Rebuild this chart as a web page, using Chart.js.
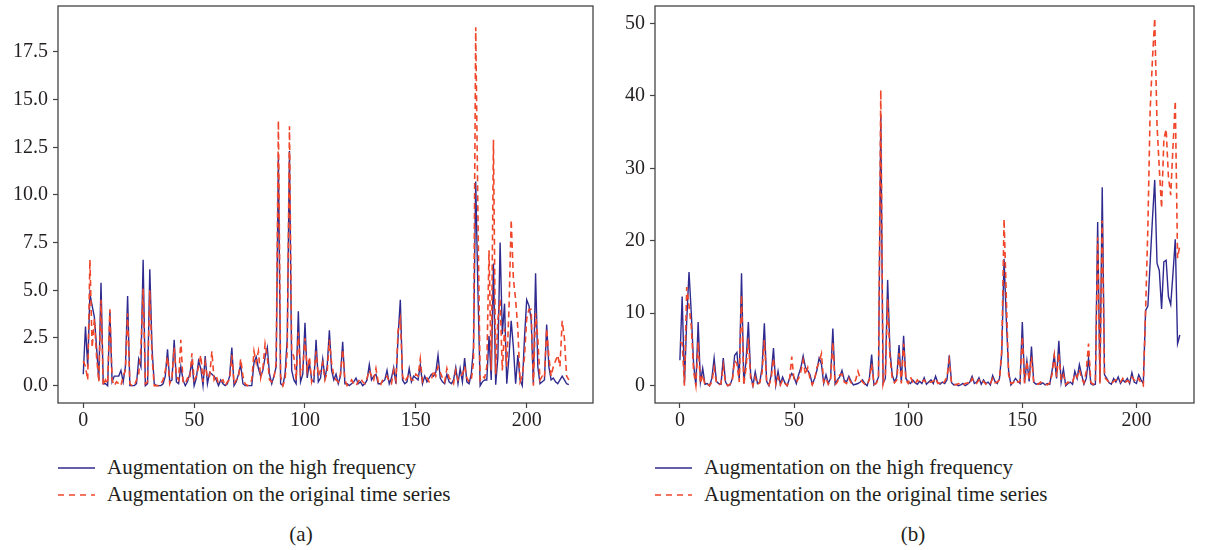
<!DOCTYPE html>
<html>
<head>
<meta charset="utf-8">
<script src="https://cdn.jsdelivr.net/npm/chart.js@4.4.0/dist/chart.umd.min.js"></script>
<style>
    html, body { margin: 0; padding: 0; background: #fff; }
    #page { position: relative; width: 1208px; height: 550px; overflow: hidden; }
    .panel { position: absolute; top: 0; height: 432px; }
    .legend { position: absolute; font-family: "Liberation Serif", "DejaVu Serif", serif; font-size: 21px; color: #231f20; }
    .legend .row { position: absolute; left: 0; white-space: nowrap; height: 26px; line-height: 26px; }
    .legend svg { position: absolute; left: 0; top: 12px; }
    .legend span { position: absolute; left: 49px; top: 0; }
    .caption { position: absolute; top: 522px; width: 60px; margin-left: -30px; text-align: center;
               font-family: "Liberation Serif", "DejaVu Serif", serif; font-size: 21px; color: #231f20; }
</style>
</head>
<body>
<div id="page">
    <div class="panel" style="left:0;width:600px;"><canvas id="chartA" width="600" height="432"></canvas></div>
    <div class="panel" style="left:600px;width:608px;"><canvas id="chartB" width="608" height="432"></canvas></div>

    <div class="legend" style="left:58px;top:454px;">
        <div class="row" style="top:0;"><svg width="40" height="4"><line x1="0" y1="2" x2="37" y2="2" stroke="#2f2a8f" stroke-width="1.5"/></svg><span>Augmentation on the high frequency</span></div>
        <div class="row" style="top:27px;"><svg width="40" height="4"><line x1="0" y1="2" x2="37" y2="2" stroke="#f0462a" stroke-width="1.6" stroke-dasharray="6,5"/></svg><span>Augmentation on the original time series</span></div>
    </div>
    <div class="legend" style="left:655px;top:454px;">
        <div class="row" style="top:0;"><svg width="40" height="4"><line x1="0" y1="2" x2="37" y2="2" stroke="#2f2a8f" stroke-width="1.5"/></svg><span>Augmentation on the high frequency</span></div>
        <div class="row" style="top:27px;"><svg width="40" height="4"><line x1="0" y1="2" x2="37" y2="2" stroke="#f0462a" stroke-width="1.6" stroke-dasharray="6,5"/></svg><span>Augmentation on the original time series</span></div>
    </div>
    <div class="caption" style="left:301px;">(a)</div>
    <div class="caption" style="left:913px;">(b)</div>
</div>

<script>
// Series labels
const seriesLabels = ['Augmentation on the high frequency', 'Augmentation on the original time series'];

// Sample index (x axis), 0..219
const steps = Array.from({ length: 220 }, (_, i) => i);

// Tick labels
const xTicks = [0, 50, 100, 150, 200];
const yTicksA = [0, 2.5, 5, 7.5, 10, 12.5, 15, 17.5];
const yTicksB = [0, 10, 20, 30, 40, 50];

// Panel (a) values
const highFreqA = [
    0.6, 3.1, 1.0, 4.8, 4.2, 3.6, 2.0, 0.3, 5.4, 0.1,
    0.1, 0.0, 3.9, 0.2, 0.5, 0.5, 0.5, 0.8, 0.2, 1.0,
    4.7, 0.0, 0.0, 0.0, 0.1, 1.4, 1.0, 6.6, 0.0, 0.1,
    6.1, 2.0, 0.1, 0.0, 0.0, 0.0, 0.1, 0.5, 1.9, 0.2,
    0.3, 2.4, 0.2, 0.1, 1.0, 0.3, 0.0, 0.2, 0.6, 1.25,
    0.0, 0.4, 1.3, 0.9, 0.0, 1.55, 0.1, 0.7, 0.6, 0.5,
    0.3, 0.0, 0.3, 0.1, 0.0, 0.1, 0.5, 2.0, 0.0, 0.2,
    0.6, 1.1, 0.1, 0.0, 0.0, 0.0, 0.0, 1.2, 1.5, 0.9,
    0.5, 0.8, 1.5, 2.0, 0.6, 0.1, 0.5, 1.0, 12.0, 0.1,
    0.0, 0.6, 2.5, 12.3, 0.8, 0.3, 0.1, 3.9, 0.2, 0.6,
    3.3, 0.4, 1.2, 0.3, 0.2, 2.4, 0.2, 0.4, 1.4, 0.4,
    1.0, 2.9, 0.8, 0.3, 0.6, 0.1, 0.5, 2.3, 0.1, 0.1,
    0.0, 0.1, 0.2, 0.4, 0.1, 0.2, 0.0, 0.1, 0.3, 1.1,
    0.3, 0.5, 0.6, 0.1, 0.1, 0.2, 0.3, 0.8, 0.1, 0.4,
    0.95, 0.1, 2.6, 4.5, 0.3, 0.1, 0.2, 0.9, 0.2, 0.5,
    0.4, 0.3, 1.1, 0.1, 0.5, 0.2, 0.4, 0.6, 0.5, 0.7,
    1.6, 0.4, 0.2, 0.1, 0.6, 0.2, 0.1, 0.3, 0.95, 0.1,
    0.9, 0.2, 1.45, 0.2, 0.1, 0.6, 2.0, 10.7, 5.0, 0.0,
    0.2, 0.3, 0.3, 2.6, 0.3, 6.4, 0.05, 1.5, 7.5, 2.7,
    4.3, 0.1, 1.5, 3.4, 2.0, 0.1, 1.6, 0.3, 0.0, 2.5,
    4.5, 4.2, 3.5, 0.1, 5.9, 1.0, 0.1, 0.2, 0.3, 3.2,
    1.0, 0.3, 0.4, 0.2, 0.1, 0.3, 0.5, 0.3, 0.1, 0.05
];
const originalA = [
    1.3, 1.0, 0.3, 6.6, 2.0, 3.5, 1.5, 0.2, 4.5, 0.0,
    0.3, 0.1, 4.0, 0.3, 0.0, 0.2, 0.1, 0.0, 0.5, 0.8,
    3.8, 0.1, 0.0, 0.0, 0.3, 0.6, 2.0, 5.1, 0.1, 0.2,
    5.0, 1.5, 0.0, 0.0, 0.0, 0.1, 0.3, 0.8, 1.5, 0.1,
    0.4, 2.0, 0.5, 0.3, 2.4, 0.2, 0.1, 0.4, 0.3, 1.7,
    0.3, 0.5, 1.0, 1.6, 0.2, 1.2, 0.4, 0.5, 1.8, 0.3,
    0.5, 0.1, 0.2, 0.3, 0.0, 0.2, 0.3, 1.6, 0.1, 0.3,
    0.4, 1.4, 0.5, 0.1, 0.0, 0.1, 0.3, 1.8, 1.2, 1.8,
    0.4, 0.9, 2.2, 1.5, 0.3, 0.2, 0.4, 1.2, 13.9, 0.5,
    0.0, 0.3, 1.8, 13.6, 1.8, 1.5, 0.3, 2.8, 0.6, 0.9,
    2.5, 0.8, 1.5, 0.2, 0.6, 1.8, 0.5, 0.8, 1.2, 0.3,
    0.7, 2.4, 1.2, 0.5, 0.3, 0.2, 0.6, 1.9, 0.3, 0.0,
    0.1, 0.3, 0.1, 0.0, 0.2, 0.4, 0.2, 0.1, 0.4, 0.8,
    0.5, 0.3, 0.9, 0.2, 0.0, 0.3, 0.4, 0.5, 0.2, 0.1,
    0.8, 0.3, 2.9, 3.5, 0.5, 0.2, 0.4, 0.6, 0.3, 0.3,
    0.6, 0.5, 1.4, 0.2, 0.3, 0.4, 0.2, 0.3, 0.8, 0.5,
    1.0, 0.7, 0.4, 0.2, 0.9, 0.4, 0.3, 0.1, 0.8, 0.3,
    0.5, 0.6, 1.0, 0.4, 0.2, 0.3, 1.2, 18.8, 9.0, 0.3,
    0.5, 0.4, 1.0, 7.1, 0.8, 12.9, 0.6, 3.5, 4.5, 0.8,
    3.0, 1.0, 4.0, 8.7, 5.6, 4.5, 3.0, 0.2, 0.5, 1.5,
    3.5, 4.0, 4.0, 0.0, 3.8, 2.5, 0.3, 0.5, 0.4, 3.0,
    1.5, 0.5, 1.0, 1.3, 1.6, 1.0, 3.4, 2.5, 0.5, 0.3
];

// Panel (b) values
const highFreqB = [
    3.5, 12.3, 0.3, 9.0, 15.7, 10.0, 3.0, 0.0, 8.8, 0.5,
    2.4, 0.2, 0.3, 0.0, 1.0, 3.8, 0.6, 0.3, 0.2, 3.8,
    0.5, 0.0, 0.1, 1.0, 4.2, 4.6, 0.8, 15.5, 0.3, 3.5,
    8.8, 1.5, 0.0, 1.9, 0.3, 0.5, 2.5, 8.6, 0.6, 0.0,
    1.5, 5.2, 0.1, 2.0, 0.2, 1.2, 0.4, 0.0, 1.0, 1.7,
    1.2, 0.3, 1.5, 2.5, 4.1, 2.5, 2.1, 1.5, 0.2, 1.0,
    2.1, 3.8, 3.0, 0.3, 1.5, 0.3, 1.0, 7.9, 0.2, 0.8,
    1.2, 2.1, 0.8, 0.5, 1.3, 0.6, 0.1, 0.2, 0.3, 0.5,
    0.8, 0.3, 0.0, 1.0, 4.3, 0.1, 0.4, 1.2, 37.3, 0.3,
    1.0, 14.6, 5.0, 1.5, 0.5, 1.2, 5.6, 0.5, 6.9, 1.0,
    0.5, 0.3, 0.8, 0.4, 0.2, 0.6, 0.3, 1.1, 0.2, 0.5,
    0.8, 0.3, 1.3, 0.4, 0.2, 0.5, 0.3, 0.8, 4.2, 0.4,
    0.1, 0.2, 0.0, 0.1, 0.3, 0.0, 0.2, 0.5, 1.3, 0.3,
    0.5, 1.1, 0.2, 0.8, 0.3, 0.5, 0.1, 1.4, 0.6, 0.3,
    1.0, 4.5, 17.5, 9.0, 2.0, 0.1, 0.5, 1.0, 0.6, 0.3,
    8.8, 0.4, 3.4, 0.6, 5.4, 0.5, 0.2, 0.3, 0.2, 0.4,
    0.1, 0.3, 0.2, 2.0, 4.2, 1.0, 6.2, 0.5, 2.3, 0.0,
    0.3, 0.5, 0.2, 2.0, 1.0, 2.9, 1.5, 0.2, 1.0, 3.8,
    0.3, 0.1, 0.2, 22.6, 0.5, 27.4, 1.5, 1.0, 0.4, 0.2,
    1.0, 0.5, 1.2, 0.3, 0.8, 0.5, 1.0, 0.3, 1.8, 0.5,
    0.3, 1.5, 0.8, 0.3, 10.4, 11.0, 17.0, 23.0, 28.4, 16.9,
    15.9, 10.6, 17.1, 17.3, 12.3, 11.2, 15.5, 20.2, 5.8, 7.0
];
const originalB = [
    6.0, 5.9, 0.0, 13.6, 11.0, 8.2, 2.0, 0.0, 6.0, 0.3,
    1.5, 0.1, 0.2, 0.0, 0.5, 2.5, 0.4, 0.1, 0.3, 2.8,
    0.3, 0.0, 0.2, 0.8, 3.5, 3.0, 0.5, 12.5, 0.1, 2.5,
    6.5, 1.0, 0.0, 1.2, 0.2, 0.4, 1.8, 6.3, 0.4, 0.1,
    1.0, 3.8, 0.2, 1.2, 0.1, 0.8, 0.3, 0.0, 0.8, 4.0,
    0.8, 0.5, 1.0, 2.0, 3.5, 1.5, 2.5, 1.0, 0.1, 0.8,
    2.5, 3.2, 4.4, 0.5, 1.0, 0.2, 0.8, 6.0, 0.1, 0.5,
    1.5, 1.6, 0.5, 0.3, 1.0, 0.4, 0.3, 0.8, 2.0, 1.0,
    0.5, 0.2, 0.1, 0.8, 3.0, 0.2, 0.3, 1.0, 40.8, 0.2,
    1.5, 12.0, 4.0, 1.0, 0.4, 0.8, 4.5, 0.3, 5.8, 0.8,
    0.3, 1.2, 0.5, 0.2, 0.8, 0.4, 0.5, 0.8, 0.3, 0.4,
    0.5, 0.6, 1.0, 0.3, 0.4, 0.2, 0.6, 1.2, 3.5, 0.3,
    0.2, 0.1, 0.3, 0.2, 0.1, 0.3, 0.4, 0.2, 1.0, 0.5,
    0.3, 0.8, 0.4, 0.6, 0.2, 0.4, 0.3, 1.0, 0.4, 0.5,
    0.8, 5.0, 23.0, 12.0, 1.5, 0.3, 0.4, 0.8, 0.5, 0.6,
    6.8, 0.3, 3.4, 0.8, 4.0, 0.4, 0.3, 0.2, 0.5, 0.3,
    0.2, 0.1, 0.4, 1.5, 4.2, 1.2, 4.5, 0.8, 1.5, 0.2,
    0.5, 0.3, 0.4, 1.6, 1.2, 2.2, 1.0, 0.4, 2.0, 5.8,
    0.5, 0.2, 0.3, 20.5, 0.3, 22.8, 1.2, 0.8, 0.5, 0.3,
    0.6, 0.8, 0.8, 0.5, 1.0, 0.4, 0.7, 0.5, 1.2, 0.8,
    0.5, 1.0, 0.3, 0.0, 10.4, 22.0, 38.0, 45.0, 50.7, 36.0,
    30.0, 24.5, 34.0, 35.4, 28.8, 26.3, 33.0, 39.3, 17.6, 19.4
];

// Style constants
const COLORS = {
    highFreq: '#2f2a8f',
    original: '#f0462a',
    axis: '#444444',
    text: '#231f20'
};
const TICK_FONT = { family: '"Liberation Serif", "DejaVu Serif", serif', size: 20 };

/**
 * Draws the full box around the plot area (matplotlib style spines)
 */
const frameBox = {
    id: 'frameBox',
    afterDraw(chart) {
        const { ctx, chartArea: a } = chart;
        ctx.save();
        ctx.strokeStyle = COLORS.axis;
        ctx.lineWidth = 1.3;
        ctx.strokeRect(a.left, a.top, a.right - a.left, a.bottom - a.top);
        ctx.restore();
    }
};

/**
 * Turn value array into {x, y} points
 */
function toPoints(values) {
    return values.map((v, i) => ({ x: steps[i], y: v }));
}

/**
 * Build one panel
 * @param {string} id - canvas id
 * @param {Object} cfg - axis ranges, ticks and layout sizes
 */
function createPanel(id, cfg) {
    const ctx = document.getElementById(id).getContext('2d');
    return new Chart(ctx, {
        type: 'line',
        data: {
            datasets: [
                {
                    label: seriesLabels[0],
                    data: toPoints(cfg.highFreq),
                    borderColor: COLORS.highFreq,
                    borderWidth: 1.4,
                    pointRadius: 0,
                    tension: 0,
                    order: 1
                },
                {
                    label: seriesLabels[1],
                    data: toPoints(cfg.original),
                    borderColor: COLORS.original,
                    borderWidth: 1.6,
                    borderDash: [6, 4],
                    pointRadius: 0,
                    tension: 0,
                    order: 0
                }
            ]
        },
        options: {
            responsive: false,
            animation: false,
            layout: { padding: { top: 6, right: cfg.rightPad, left: 0, bottom: 0 } },
            plugins: {
                legend: { display: false },
                tooltip: { enabled: false }
            },
            scales: {
                x: {
                    type: 'linear',
                    min: cfg.xMin,
                    max: cfg.xMax,
                    afterBuildTicks: axis => { axis.ticks = xTicks.map(v => ({ value: v })); },
                    afterFit: axis => {
                        axis.height = 29;
                        axis.paddingLeft = 0;
                        axis.paddingRight = 0;
                    },
                    grid: { drawOnChartArea: false, drawTicks: true, tickLength: 5, tickColor: COLORS.axis, tickWidth: 1.2 },
                    border: { display: false },
                    ticks: { color: COLORS.text, font: TICK_FONT, padding: 1, maxRotation: 0 }
                },
                y: {
                    type: 'linear',
                    min: cfg.yMin,
                    max: cfg.yMax,
                    afterBuildTicks: axis => { axis.ticks = cfg.yTicks.map(v => ({ value: v })); },
                    afterFit: axis => {
                        axis.width = cfg.yAxisWidth;
                        axis.paddingTop = 0;
                        axis.paddingBottom = 0;
                    },
                    grid: { drawOnChartArea: false, drawTicks: true, tickLength: 5, tickColor: COLORS.axis, tickWidth: 1.2 },
                    border: { display: false },
                    ticks: {
                        color: COLORS.text,
                        font: TICK_FONT,
                        padding: 5,
                        callback: v => cfg.yDecimals ? v.toFixed(1) : String(v)
                    }
                }
            }
        },
        plugins: [frameBox]
    });
}

createPanel('chartA', {
    highFreq: highFreqA,
    original: originalA,
    xMin: -11.4, xMax: 229.9,
    yMin: -0.91, yMax: 19.91,
    yTicks: yTicksA,
    yDecimals: true,
    yAxisWidth: 58,
    rightPad: 7
});

createPanel('chartB', {
    highFreq: highFreqB,
    original: originalB,
    xMin: -10.9, xMax: 225.2,
    yMin: -2.39, yMax: 52.4,
    yTicks: yTicksB,
    yDecimals: false,
    yAxisWidth: 55,
    rightPad: 14
});
</script>
</body>
</html>
